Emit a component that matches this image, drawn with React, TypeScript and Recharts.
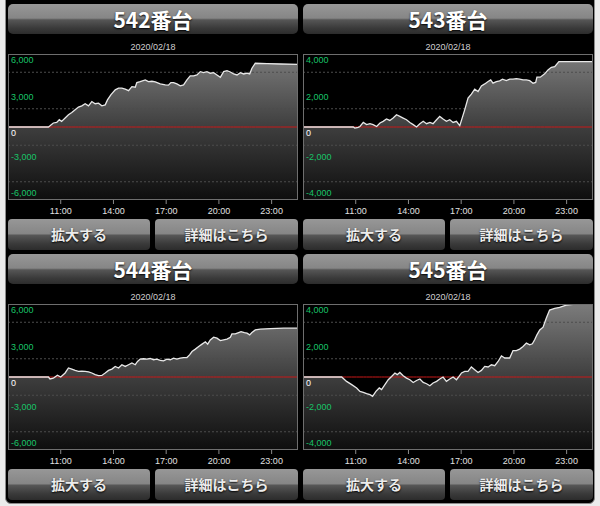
import React from "react";
import { ComposedChart, Area, Line, XAxis, YAxis, ReferenceLine } from "recharts";

const DATE_LABEL = "2020/02/18";
const X_TICKS = [11, 14, 17, 20, 23];
const X_DOMAIN = [8, 24.5];

const ticks6000 = [6000, 3000, 0, -3000, -6000];
const grid6000 = [4500, 1500, -1500, -4500];
const ticks4000 = [4000, 2000, 0, -2000, -4000];
const grid4000 = [3000, 1000, -1000, -3000];

// hours of day / 差枚数
const hours542 = [8, 10.3, 10.39, 10.58, 10.77, 10.92, 11.05, 11.25, 11.44, 11.63, 11.82, 12.01, 12.2, 12.39, 12.58, 12.77, 12.96, 13.15, 13.34, 13.53, 13.66, 13.85, 14.1, 14.29, 14.48, 14.67, 14.86, 15.05, 15.24, 15.33, 15.52, 15.81, 15.99, 16.19, 16.38, 16.66, 16.95, 17.13, 17.27, 17.42, 17.61, 17.8, 17.99, 18.18, 18.37, 18.56, 18.75, 18.94, 19.13, 19.32, 19.51, 19.7, 19.89, 20.08, 20.27, 20.46, 20.65, 20.84, 21.03, 21.22, 21.41, 21.6, 21.75, 21.88, 22.07, 22.74, 23.5, 24.5];
const diff542 = [0, 0, 100, 330, 380, 600, 460, 740, 1010, 1190, 1420, 1640, 1740, 1910, 1740, 2090, 1910, 1960, 1740, 1820, 2230, 2640, 3050, 3190, 3190, 3110, 2990, 3320, 3270, 3650, 3730, 3870, 3730, 3760, 3710, 3540, 3460, 3440, 3650, 3650, 3540, 3380, 3460, 3870, 4200, 4200, 4280, 4550, 4470, 4550, 4420, 4470, 4280, 4090, 4550, 4630, 4520, 4360, 4280, 4470, 4360, 4420, 4360, 4830, 5240, 5210, 5180, 5150];

const hours543 = [8, 10.86, 10.95, 11.14, 11.24, 11.43, 11.62, 11.81, 11.99, 12.19, 12.38, 12.56, 12.75, 12.94, 13.13, 13.32, 13.51, 13.7, 13.89, 14.08, 14.27, 14.46, 14.65, 14.84, 15.03, 15.22, 15.4, 15.6, 15.78, 15.97, 16.16, 16.35, 16.54, 16.73, 16.92, 17.2, 17.39, 17.58, 17.77, 17.96, 18.15, 18.34, 18.53, 18.68, 18.81, 19.0, 19.19, 19.35, 19.57, 19.76, 19.95, 20.14, 20.33, 20.52, 20.71, 20.9, 21.09, 21.24, 21.31, 21.5, 21.75, 21.94, 22.13, 22.32, 22.56, 24.5];
const diff543 = [0, 0, -60, -20, 30, 250, 130, 180, 130, 30, 220, 310, 440, 360, 490, 670, 580, 490, 400, 250, 130, 0, 180, 310, 180, 250, 180, 400, 580, 440, 310, 400, 250, 310, 70, 940, 1580, 1800, 2070, 1940, 2250, 2360, 2490, 2580, 2400, 2490, 2530, 2620, 2540, 2620, 2620, 2650, 2620, 2580, 2580, 2540, 2400, 2440, 2730, 2730, 2910, 3130, 3270, 3310, 3580, 3580];

const hours544 = [8, 10.3, 10.39, 10.58, 10.81, 11.0, 11.25, 11.44, 11.63, 11.82, 12.01, 12.2, 12.39, 12.58, 12.77, 12.96, 13.15, 13.34, 13.53, 13.72, 13.91, 14.1, 14.29, 14.48, 14.67, 14.86, 15.05, 15.24, 15.37, 15.52, 15.71, 15.9, 16.09, 16.28, 16.47, 16.66, 16.85, 17.04, 17.23, 17.42, 17.61, 17.8, 17.99, 18.18, 18.33, 18.47, 18.66, 18.85, 19.04, 19.23, 19.36, 19.51, 19.7, 19.89, 20.08, 20.27, 20.46, 20.65, 20.74, 20.93, 21.12, 21.26, 21.45, 21.6, 21.75, 21.88, 22.07, 22.36, 22.93, 23.69, 24.5];
const diff544 = [0, 0, -160, -100, 150, 0, 330, 740, 650, 540, 460, 490, 460, 430, 330, 190, 110, 130, 330, 540, 650, 870, 740, 1010, 870, 1010, 1150, 1010, 1280, 1470, 1500, 1470, 1520, 1420, 1470, 1360, 1330, 1470, 1420, 1550, 1470, 1550, 1600, 1600, 1820, 2090, 2290, 2500, 2700, 2890, 2700, 3050, 3270, 3190, 2990, 3050, 3110, 3270, 3540, 3540, 3650, 3730, 3650, 3600, 3460, 3650, 3870, 3930, 3980, 4010, 4010];

const hours545 = [8, 10.2, 10.48, 10.77, 11.05, 11.24, 11.43, 11.62, 11.81, 11.96, 12.15, 12.34, 12.47, 12.66, 12.85, 13.04, 13.23, 13.36, 13.51, 13.7, 13.89, 14.08, 14.27, 14.46, 14.65, 14.84, 15.03, 15.22, 15.4, 15.6, 15.78, 15.97, 16.16, 16.35, 16.54, 16.73, 16.88, 17.02, 17.2, 17.39, 17.58, 17.77, 17.96, 18.15, 18.34, 18.53, 18.72, 18.91, 19.1, 19.29, 19.48, 19.76, 19.95, 20.14, 20.33, 20.52, 20.71, 20.9, 21.05, 21.18, 21.31, 21.47, 21.66, 21.84, 22.03, 22.32, 22.6, 22.98, 23.36, 24.5];
const diff545 = [0, 0, -240, -420, -600, -790, -840, -910, -970, -1060, -790, -600, -690, -420, -150, 30, 220, 130, 250, 70, -60, -150, -300, -190, -110, -300, -370, -480, -330, -240, -110, 0, -240, -110, 0, -150, 30, 220, 310, 310, 550, 400, 250, 360, 580, 550, 670, 620, 850, 1160, 1040, 1040, 1450, 1450, 1530, 1670, 1860, 1760, 1820, 2040, 2310, 2580, 2730, 3220, 3670, 3760, 3820, 3940, 3980, 3980];

const PLOT_W = 290;
const PLOT_H = 146;
const FONT = "'Liberation Sans', Arial, sans-serif";
const JP_FONT = "'Noto Sans CJK JP', 'Noto Sans', sans-serif";

const barBg =
  "linear-gradient(to bottom, #979797 0%, #868686 47%, #565656 53%, #3a3a3a 80%, #2c2c2c 100%)";

function YTick(props: any) {
  const { y, payload } = props;
  const v = payload.value as number;
  return (
    <text
      x={3}
      y={v < 0 ? y - 4 : y + 9}
      fill={v === 0 ? "#ffffff" : "#18c468"}
      fontSize={9}
      fontFamily={FONT}
    >
      {v.toLocaleString("en-US")}
    </text>
  );
}

function Panel({ id, left, top, title, hours, diffs, ticks, grid }: any) {
  // zero is the baseline drawn in red under the white line
  const data = hours.map((h: number, i: number) => ({ h, v: diffs[i], zero: 0 }));
  const max = ticks[0];
  return (
    <div style={{ position: "absolute", left, top, width: PLOT_W, height: 246 }}>
      <div
        style={{
          position: "absolute", left: 0, top: 0, width: PLOT_W, height: 30,
          borderRadius: 5, background: barBg, color: "#fff", fontFamily: JP_FONT,
          fontWeight: "bold", fontSize: 21, lineHeight: "30px", textAlign: "center",
          textShadow: "0 1px 2px #000",
        }}
      >
        {title}
      </div>
      <div
        style={{
          position: "absolute", left: 0, top: 37, width: PLOT_W, textAlign: "center",
          fontFamily: FONT, fontSize: 9, color: "#d0d0d0", lineHeight: "12px",
        }}
      >
        {DATE_LABEL}
      </div>
      <div style={{ position: "absolute", left: 0, top: 50 }}>
        <ComposedChart
          width={PLOT_W}
          height={PLOT_H + 20}
          data={data}
          margin={{ top: 0, right: 0, bottom: 0, left: 0 }}
        >
          <defs>
            <linearGradient id={`fill${id}`} x1="0" y1="0" x2="0" y2={PLOT_H} gradientUnits="userSpaceOnUse">
              <stop offset="0%" stopColor="#7c7c7c" />
              <stop offset="50%" stopColor="#3e3e3e" />
              <stop offset="100%" stopColor="#0e0e0e" />
            </linearGradient>
          </defs>
          <XAxis
            type="number"
            dataKey="h"
            domain={X_DOMAIN}
            ticks={X_TICKS}
            interval={0}
            tickFormatter={(h: number) => `${h}:00`}
            axisLine={false}
            tickLine={{ stroke: "#8a8a8a" }}
            tickSize={4}
            tickMargin={4}
            height={20}
            tick={{ fill: "#e0e0e0", fontSize: 9, fontFamily: FONT }}
          />
          <YAxis
            type="number"
            domain={[-max, max]}
            ticks={ticks}
            interval={0}
            mirror
            axisLine={false}
            tickLine={false}
            tick={YTick}
          />
          {grid.map((g: number) => (
            <ReferenceLine key={g} y={g} stroke="#4c4c4c" strokeDasharray="2 2" />
          ))}
          <Area
            type="linear"
            dataKey="v"
            stroke="none"
            fill={`url(#fill${id})`}
            fillOpacity={1}
            baseValue="dataMin"
            dot={false}
            activeDot={false}
            isAnimationActive={false}
          />
          <Line
            type="linear"
            dataKey="zero"
            stroke="#c81818"
            strokeWidth={1}
            dot={false}
            activeDot={false}
            isAnimationActive={false}
          />
          <Line
            type="linear"
            dataKey="v"
            stroke="#e8e8e8"
            strokeWidth={1.3}
            dot={false}
            activeDot={false}
            isAnimationActive={false}
          />
        </ComposedChart>
      </div>
      <div
        style={{
          position: "absolute", left: 0, top: 50, width: PLOT_W - 2, height: PLOT_H - 2,
          border: "1px solid #6e6e6e", pointerEvents: "none",
        }}
      />
      {["拡大する", "詳細はこちら"].map((label, i) => (
        <div
          key={label}
          style={{
            position: "absolute", left: i === 0 ? 0 : 147, top: 215, width: i === 0 ? 142 : 143,
            height: 31, borderRadius: 4, background: barBg, color: "#ececec",
            fontFamily: JP_FONT, fontWeight: "bold", fontSize: 14, lineHeight: "31px",
            textAlign: "center", textShadow: "0 1px 2px #000",
          }}
        >
          {label}
        </div>
      ))}
    </div>
  );
}

export default function App() {
  return (
    <div style={{ position: "absolute", left: 0, top: 0, width: 600, height: 506, background: "#ebebeb", overflow: "hidden" }}>
      <div
        style={{
          position: "absolute", left: 5, top: -6, width: 588, height: 508,
          background: "#000", border: "1px solid #8c8c8c", borderRadius: 6,
        }}
      />
      <Panel id="542" left={8} top={4} title="542番台" hours={hours542} diffs={diff542} ticks={ticks6000} grid={grid6000} />
      <Panel id="543" left={303} top={4} title="543番台" hours={hours543} diffs={diff543} ticks={ticks4000} grid={grid4000} />
      <Panel id="544" left={8} top={254} title="544番台" hours={hours544} diffs={diff544} ticks={ticks6000} grid={grid6000} />
      <Panel id="545" left={303} top={254} title="545番台" hours={hours545} diffs={diff545} ticks={ticks4000} grid={grid4000} />
    </div>
  );
}
